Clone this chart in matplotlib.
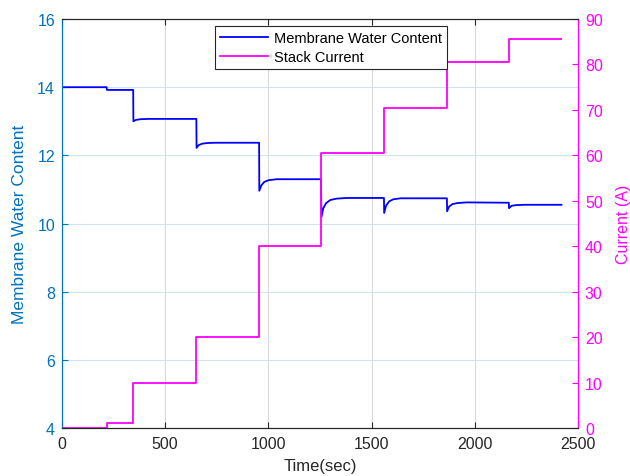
import matplotlib
matplotlib.use('Agg')
import matplotlib.pyplot as plt

plt.rcParams.update({
    'font.family': ['Liberation Sans', 'DejaVu Sans'],
    'font.size': 11.5,
})

# membrane water content (time s, value)
wc_time = [0, 216, 218, 345, 346, 358, 380, 420, 651, 652, 662, 678, 700, 740,
           955, 956, 966, 980, 1000, 1040, 1255, 1257, 1266, 1280, 1300, 1330, 1380,
           1560, 1561, 1570, 1585, 1605, 1640, 1865, 1866, 1876, 1892, 1915, 1960,
           2165, 2166, 2178, 2200, 2240, 2420]
wc_value = [14.0, 14.0, 13.92, 13.92, 13.0, 13.04, 13.06, 13.07, 13.07, 12.22, 12.30, 12.34, 12.36, 12.37,
            12.37, 10.96, 11.12, 11.22, 11.27, 11.30, 11.30, 10.19, 10.45, 10.60, 10.69, 10.73, 10.75,
            10.75, 10.31, 10.52, 10.65, 10.71, 10.74, 10.74, 10.36, 10.50, 10.57, 10.60, 10.62,
            10.61, 10.45, 10.52, 10.54, 10.55, 10.55]

# stack current steps (time s, A)
cur_time = [0, 216, 216, 345, 345, 651, 651, 955, 955, 1257, 1257, 1560, 1560, 1865, 1865,
            2165, 2165, 2420]
cur_value = [0, 0, 1, 1, 10, 10, 20, 20, 40, 40, 60.5, 60.5, 70.5, 70.5, 80.5, 80.5, 85.5, 85.5]

LEFT_C = '#0072BD'
RIGHT_C = '#FF00FF'
DARK = '#262626'

fig = plt.figure(figsize=(6.3, 4.77), dpi=100)
ax = fig.add_axes([0.0984, 0.1006, 0.819, 0.8574])
ax2 = ax.twinx()

l1, = ax.plot(wc_time, wc_value, color='#0000FF', lw=1.3, label='Membrane Water Content')
l2, = ax2.plot(cur_time, cur_value, color=RIGHT_C, lw=1.3, label='Stack Current')

ax.set_xlim(0, 2500)
ax.set_ylim(4, 16)
ax2.set_ylim(0, 90)
ax.set_xticks(range(0, 2501, 500))
ax.set_yticks(range(4, 17, 2))
ax2.set_yticks(range(0, 91, 10))

# grids: vertical gray, horizontal light blue
ax.xaxis.grid(True, color='#d9d9d9', lw=0.8)
ax.yaxis.grid(True, color='#cfe3f2', lw=0.8)
ax.set_axisbelow(True)

ax.tick_params(axis='x', direction='in', top=True, colors=DARK, labelsize=11.5, length=4, pad=5.5)
ax.tick_params(axis='y', direction='in', colors=LEFT_C, labelsize=11.5, length=4, pad=5)
ax2.tick_params(axis='y', direction='in', colors=RIGHT_C, labelsize=11.5, length=4, pad=5)

for a in (ax, ax2):
    a.spines['top'].set_color(DARK)
    a.spines['bottom'].set_color(DARK)
    a.spines['left'].set_color(LEFT_C)
    a.spines['right'].set_color(RIGHT_C)

ax.set_xlabel('Time(sec)', color=DARK, fontsize=12, labelpad=5)
ax.set_ylabel('Membrane Water Content', color=LEFT_C, fontsize=12.5)
ax2.set_ylabel('Current (A)', color=RIGHT_C, fontsize=11.5)
ax.yaxis.set_label_coords(-0.0814, 0.5)
ax2.yaxis.set_label_coords(1.0873, 0.5)
ax.yaxis.label.set_va('center')
ax2.yaxis.label.set_va('center')

leg = ax2.legend(handles=[l1, l2], loc='upper left', bbox_to_anchor=(0.2965, 0.983),
                 borderaxespad=0, fancybox=False, framealpha=1, edgecolor=DARK,
                 handlelength=3.3, handletextpad=0.4, borderpad=0.35, labelspacing=0.35,
                 fontsize=10.5)
leg.get_frame().set_linewidth(0.8)

fig.savefig('out.png')
